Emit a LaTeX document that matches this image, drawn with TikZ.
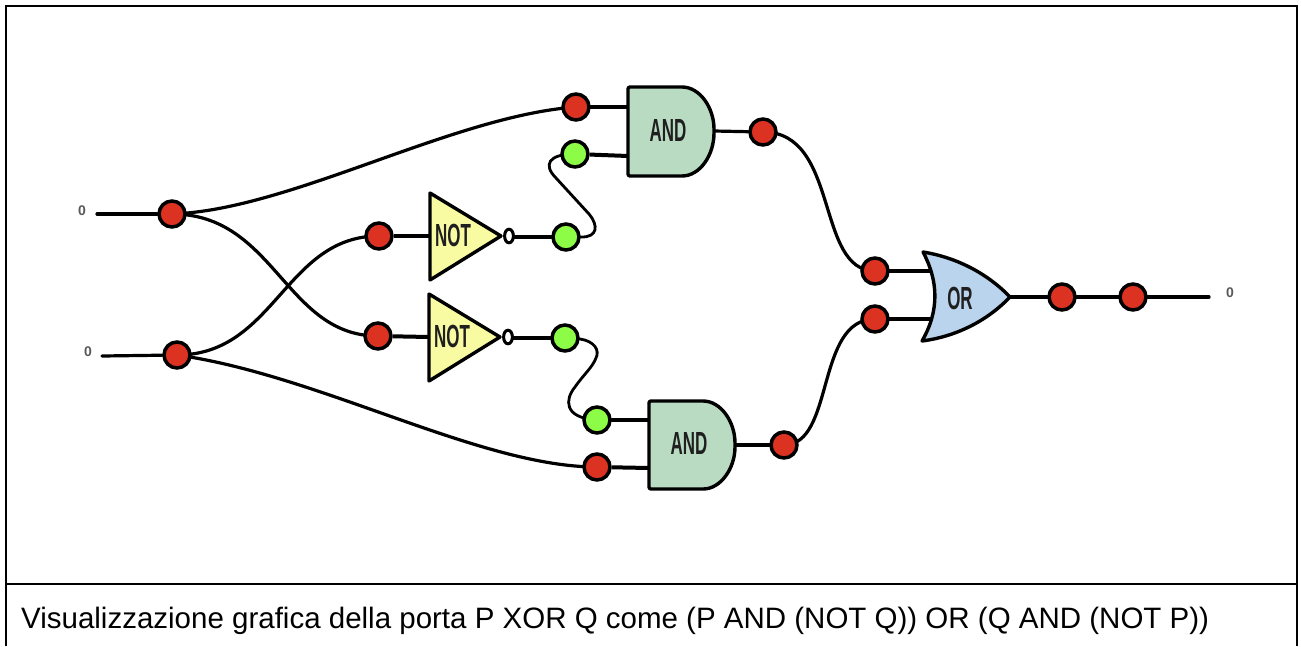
\documentclass[tikz,border=0pt]{standalone}
\usepackage{fontspec}
\setmainfont{Liberation Sans}
\newfontfamily\gatefont[FakeStretch=0.53]{Liberation Sans}
\usetikzlibrary{backgrounds}
\definecolor{redpin}{HTML}{DC3222}
\definecolor{greenpin}{HTML}{8CFC47}
\definecolor{andfill}{HTML}{B8DBC1}
\definecolor{notfill}{HTML}{F9FBA3}
\definecolor{orfill}{HTML}{BBD4EE}
\tikzset{
  redpoint/.style={circle,draw=black,line width=3.5pt,fill=redpin,minimum size=26pt,inner sep=0pt},
  greenpoint/.style={circle,draw=black,line width=3.5pt,fill=greenpin,minimum size=26pt,inner sep=0pt},
  wire/.style={draw=black,line width=3.2pt,line cap=round},
  pinwire/.style={draw=black,line width=4pt},
  gateshape/.style={draw=black,line width=3.4pt,line join=round},
  gatetext/.style={font=\gatefont\bfseries\fontsize{32}{32}\selectfont,inner sep=0pt,text=black!88},
  bitlabel/.style={font=\bfseries\fontsize{14}{14}\selectfont,text=black!65,inner sep=0pt},
  frameline/.style={draw=black,line width=1.8pt}
}
\begin{document}
\begin{tikzpicture}[x=1pt,y=-1pt]
\useasboundingbox (0,0) rectangle (1301,646);
% frame
\draw[frameline] (6,646) -- (6,6) -- (1297,6) -- (1297,646);
\draw[frameline] (6,584) -- (1297,584);
% gates
\draw[gateshape,fill=andfill,rounded corners=2pt] (628,87) -- (680,87) .. controls (700,87) and (714,108) .. (714,131) .. controls (714,155) and (700,176) .. (680,176) -- (628,176) -- cycle;
\draw[gateshape,fill=andfill,rounded corners=2pt] (649,401) -- (701,401) .. controls (721,401) and (735,422) .. (735,445) .. controls (735,468) and (721,489) .. (701,489) -- (649,489) -- cycle;
\draw[gateshape,fill=notfill] (430,193) -- (501,236) -- (430,280) -- cycle;
\draw[gateshape,fill=notfill] (429,294) -- (500,337) -- (429,381) -- cycle;
\draw[gateshape,fill=orfill] (923,252) .. controls (960,258) and (990,276) .. (1010,297) .. controls (990,318) and (960,336) .. (922,341) .. controls (940,310) and (938,280) .. (923,252) -- cycle;
\draw[draw=black,line width=3pt,fill=white] (509,236) ellipse (4.4 and 6.8);
\draw[draw=black,line width=3pt,fill=white] (508,337) ellipse (4.4 and 6.8);
\node[gatetext] (and1) at (668,130.5) {AND};
\node[gatetext] (and2) at (689,443.5) {AND};
\node[gatetext] (not1) at (453,235.5) {NOT};
\node[gatetext] (not2) at (452,336.5) {NOT};
\node[gatetext] (or1) at (960,298.5) {OR};
% pins
\coordinate (p1) at (97,214);
\coordinate (q1) at (102,356);
\coordinate (end1) at (1209,297);
\coordinate (ai1) at (628,107);
\coordinate (ai2) at (628,156);
\coordinate (ai3) at (649,420);
\coordinate (ai4) at (649,468);
\coordinate (ao1) at (714,131);
\coordinate (ao2) at (735,445);
\coordinate (ni1) at (430,236);
\coordinate (ni2) at (429,337);
\coordinate (no1) at (514,237);
\coordinate (no2) at (513,338);
\coordinate (oi1) at (930,271);
\coordinate (oi2) at (930,319);
\coordinate (oo) at (1010,297);
% points
\node[redpoint] (P) at (172,214) {};
\node[redpoint] (Q) at (177,355) {};
\node[redpoint] (A1) at (576,107) {};
\node[greenpoint] (G1) at (575,154) {};
\node[greenpoint] (G2) at (566,237) {};
\node[greenpoint] (G3) at (565,338) {};
\node[greenpoint] (G4) at (597,420) {};
\node[redpoint] (A2) at (597,467) {};
\node[redpoint] (N1) at (379,236) {};
\node[redpoint] (N2) at (378,336) {};
\node[redpoint] (O1) at (763,132) {};
\node[redpoint] (O2) at (784,445) {};
\node[redpoint] (R1) at (875,271) {};
\node[redpoint] (R2) at (875,319) {};
\node[redpoint] (S1) at (1062,297) {};
\node[redpoint] (S2) at (1133,297) {};
% labels
\node[bitlabel] (l1) at (82,211) {0};
\node[bitlabel] (l2) at (88,352) {0};
\node[bitlabel] (l3) at (1230,293) {0};
\node[anchor=base west,inner sep=0pt,font=\fontsize{29.5}{30}\selectfont] (cap) at (21,628) {Visualizzazione grafica della porta P XOR Q come (P AND (NOT Q)) OR (Q AND (NOT P))};
% wires
\begin{scope}[on background layer]
\draw[wire] (p1) -- (P);
\draw[wire] (q1) -- (Q);
\draw[wire] (P.center) .. controls (290,210) and (452,116) .. (A1.center);
\draw[wire] (P.center) .. controls (275,214) and (285,336) .. (N2.center);
\draw[wire] (Q.center) .. controls (275,355) and (285,236) .. (N1.center);
\draw[wire] (Q.center) .. controls (320,375) and (480,467) .. (A2.center);
\draw[wire] (A1) -- (ai1);
\draw[pinwire] (G1) -- (ai2);
\draw[wire] (G4) -- (ai3);
\draw[pinwire] (A2) -- (ai4);
\draw[pinwire] (N1) -- (ni1);
\draw[pinwire] (N2) -- (ni2);
\draw[wire] (no1) -- (G2);
\draw[wire] (no2) -- (G3);
\draw[wire,line width=2.8pt] (G2.center) -- (582,237) .. controls (597,237) and (599,226) .. (589,214) -- (556,178) .. controls (543,165) and (548,154) .. (G1.center);
\draw[wire,line width=2.8pt] (G3.center) -- (580,339) .. controls (594,341) and (600,350) .. (596,358) .. controls (592,368) and (584,374) .. (575,387) .. controls (565,399) and (563,418) .. (G4.center);
\draw[wire] (ao1) -- (O1);
\draw[wire] (ao2) -- (O2);
\draw[wire] (O1.center) .. controls (840,132) and (815,271) .. (R1.center);
\draw[wire] (O2.center) .. controls (835,445) and (815,319) .. (R2.center);
\draw[wire] (R1) -- (oi1);
\draw[wire] (R2) -- (oi2);
\draw[wire] (oo) -- (S1);
\draw[wire] (S1) -- (S2);
\draw[wire] (S2) -- (end1);
\end{scope}
\end{tikzpicture}
\end{document}
